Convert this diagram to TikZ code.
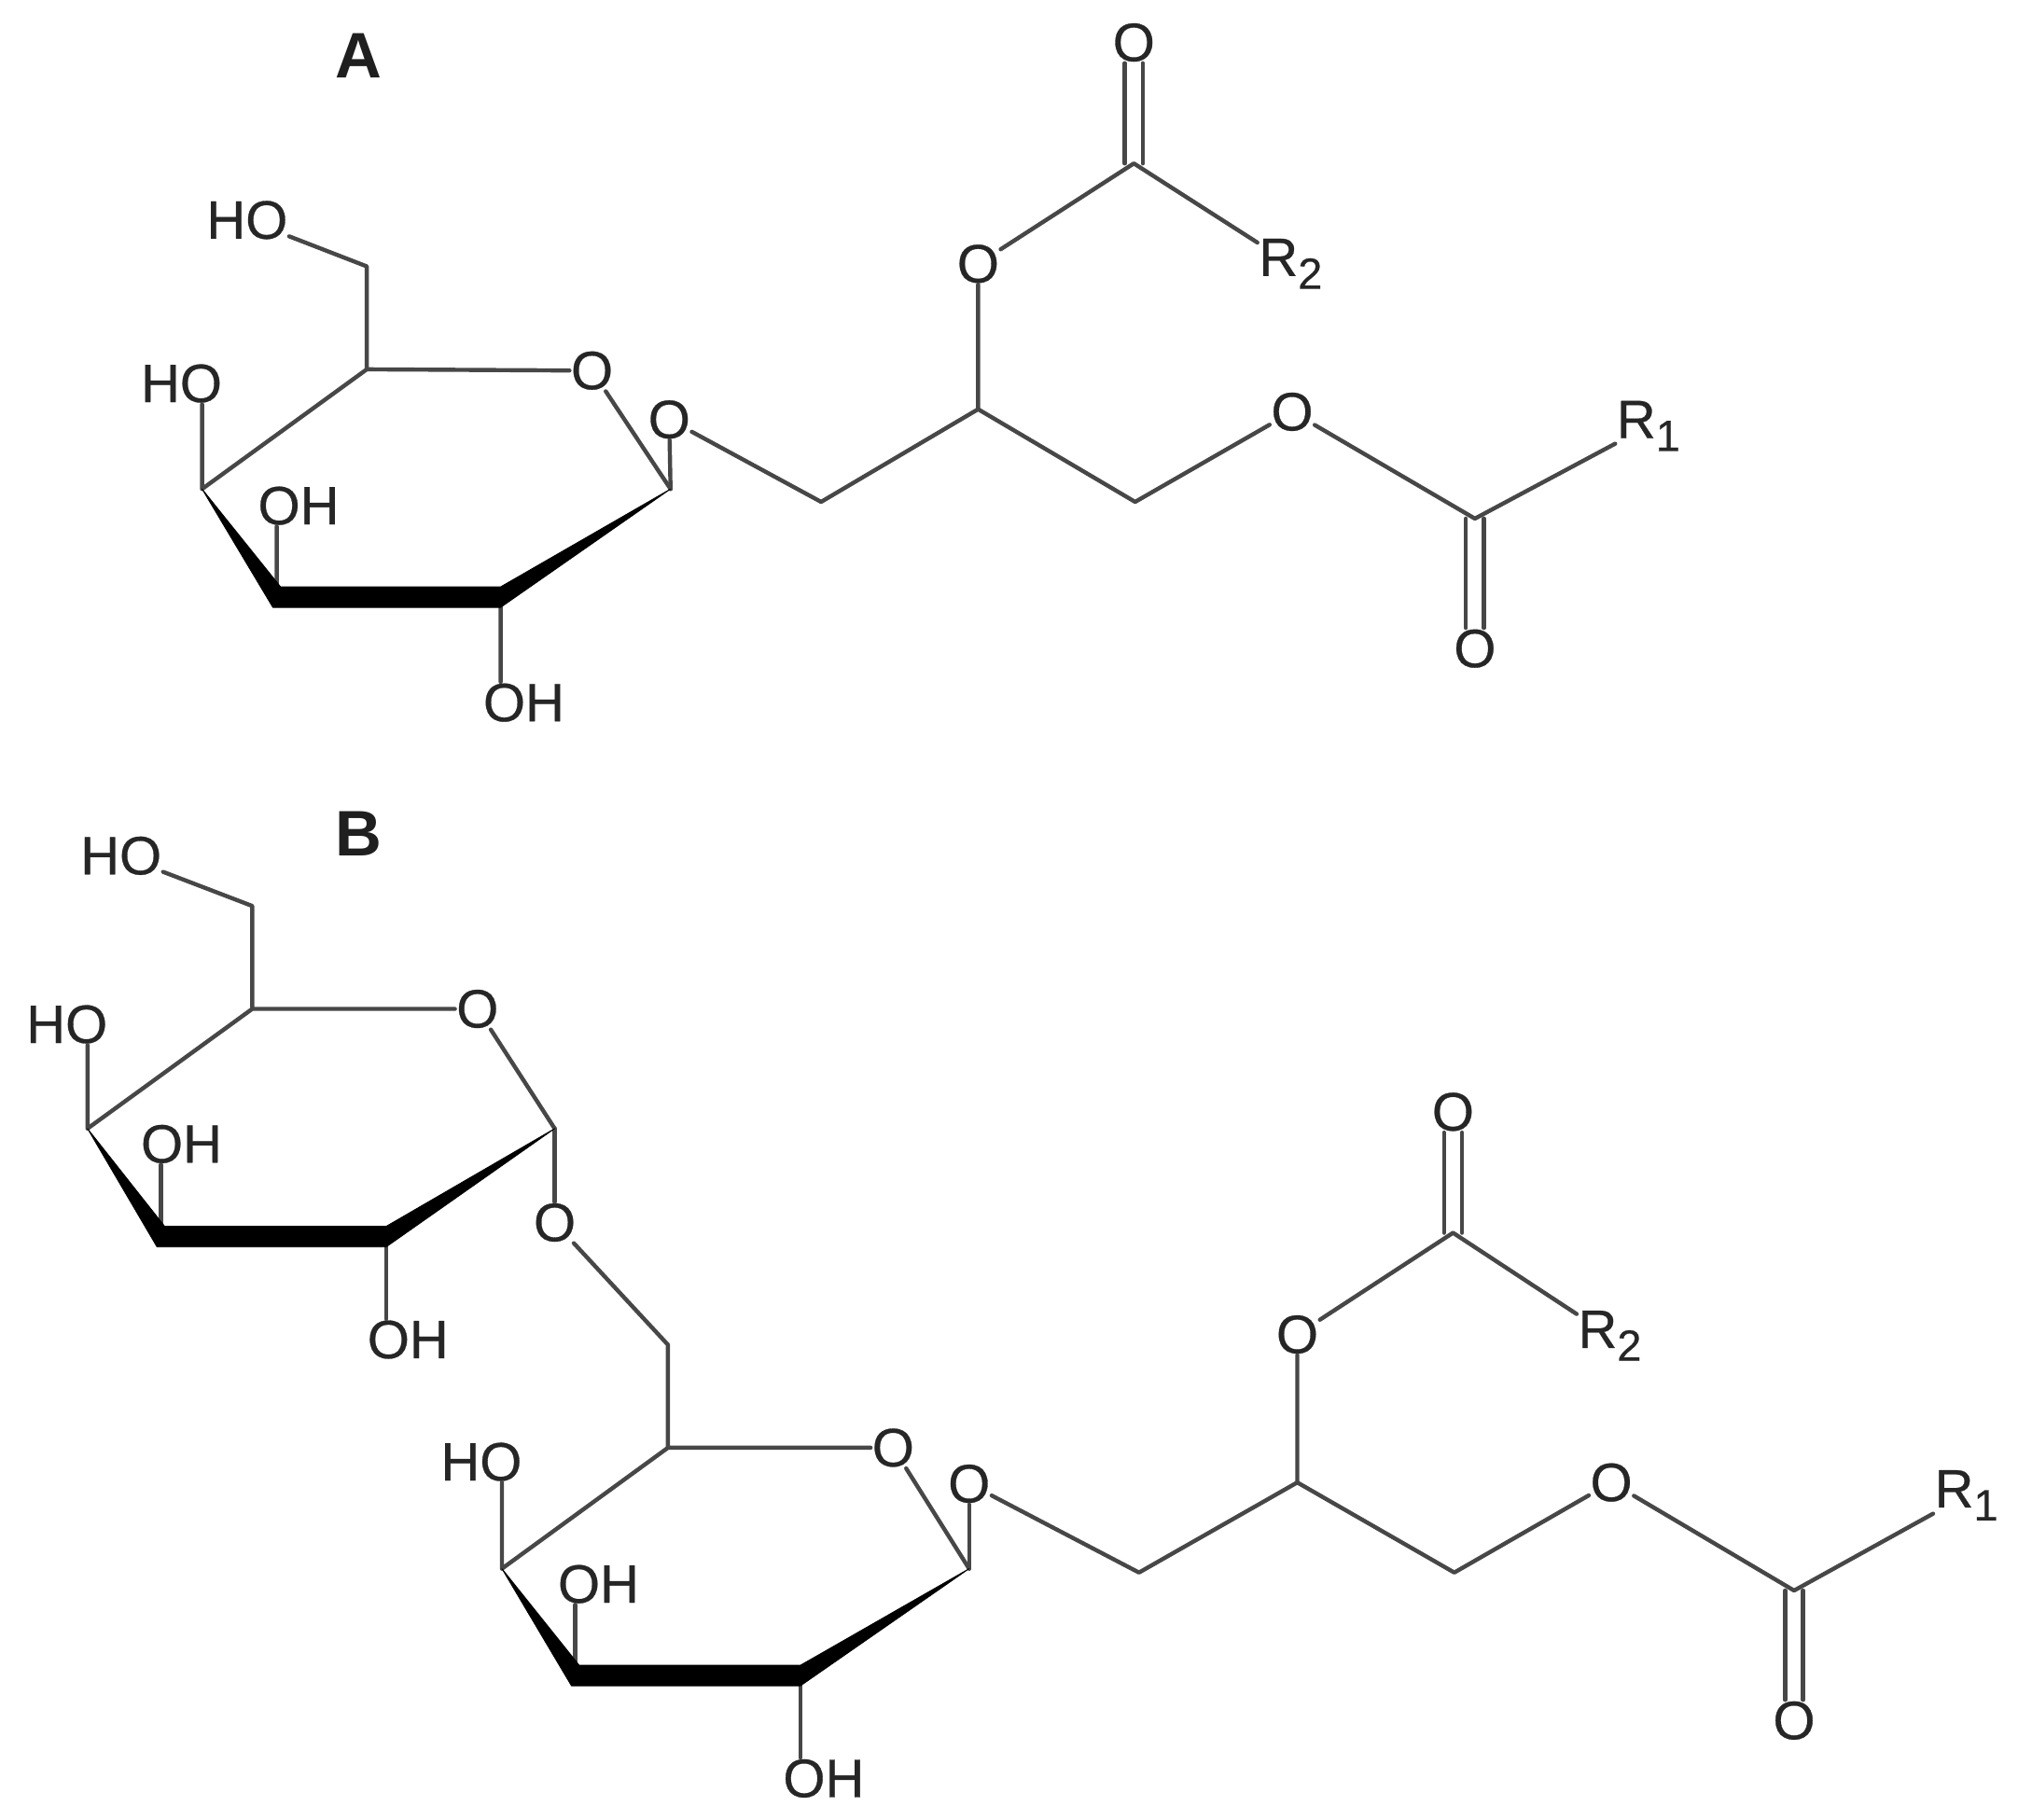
\documentclass[tikz,border=0pt]{standalone}
\usepackage{fontspec}
\setmainfont{Liberation Sans}
\newfontfamily\lblfont{Liberation Sans}[FakeBold=0.5]
\newcommand{\Rsub}[1]{R\raisebox{-10pt}{\fontsize{34}{34}\selectfont #1}}
\begin{document}
\begin{tikzpicture}[x=1pt,y=-1pt,
  lbl/.style={inner sep=1pt,font=\lblfont\fontsize{42}{42}\selectfont,text=black!85},
  head/.style={inner sep=0pt,font=\fontsize{50}{50}\selectfont\bfseries,text=black!88},
  bond/.style={draw=black!72,line width=3.2pt,line cap=round,line join=round},
  wedge/.style={fill=black,draw=black,line width=.6pt,line join=round}]
\useasboundingbox (0,0) rectangle (1568,1414);
\fill[white] (0,0) rectangle (1568,1414);
\node[head] (ha) at (279,43) {A};
\node[head] (hb) at (279,648) {B};
% --- A sugar
\coordinate (a1) at (285,287);
\node[lbl] (aOr) at (460,288) {O};
\coordinate (a2) at (521,380);
\coordinate (a3) at (389,464);
\coordinate (a4) at (215,464);
\coordinate (a5) at (157,380);
\coordinate (a6) at (285,207);
\node[lbl] (aHO6) at (192,171) {HO};
\node[lbl] (aHO5) at (141,298) {HO};
\node[lbl] (aOH4) at (232,393) {OH};
\node[lbl] (aOH3) at (407,546) {OH};
\node[lbl] (aOg) at (520,326) {O};
\coordinate (ag1) at (638,390);
\coordinate (ag2) at (760,318);
\coordinate (ag3) at (882,390);
\node[lbl] (aO2) at (760,205) {O};
\node[lbl] (aO1) at (1004,320) {O};
\coordinate (ac2) at (881,127);
\node[lbl] (aCO2) at (881,33) {O};
\node[lbl,anchor=west] (aR2) at (977,205) {\Rsub{2}};
\coordinate (ac1) at (1146,403);
\node[lbl] (aCO1) at (1146,504) {O};
\node[lbl,anchor=west] (aR1) at (1255,331) {\Rsub{1}};
\draw[bond] (a5) -- (a1) -- (aOr) (aOr) -- (a2) (a1) -- (a6) -- (aHO6) (a5) -- (a5 |- aHO5.south);
\draw[bond] (a3) -- (a3 |- aOH3.north) (a4) -- (a4 |- aOH4.south) (a2) -- (aOg);
\draw[bond] (aOg) -- (ag1) -- (ag2) -- (ag3) -- (aO1) -- (ac1) -- (aR1);
\draw[bond] (ag2) -- (aO2) -- (ac2) -- (aR2);
\draw[bond] ([xshift=-7pt]ac2) -- ([xshift=-7pt]aCO2.south) ([xshift=7pt]ac2) -- ([xshift=7pt]aCO2.south);
\draw[bond] ([xshift=-7pt]ac1) -- ([xshift=-7pt]aCO1.north) ([xshift=7pt]ac1) -- ([xshift=7pt]aCO1.north);
\fill[wedge] (a5) -- ([shift={(3,-8)}]a4) -- ([shift={(174,-8)}]a4) -- (a2) -- ([shift={(174,8)}]a4) -- ([shift={(-3,8)}]a4) -- cycle;
% --- B top sugar
\coordinate (b1) at (196,784);
\node[lbl] (bOr) at (371,784) {O};
\coordinate (b2) at (431,877);
\coordinate (b3) at (300,961);
\coordinate (b4) at (125,961);
\coordinate (b5) at (68,877);
\coordinate (b6) at (196,704);
\node[lbl] (bHO6) at (94,665) {HO};
\node[lbl] (bHO5) at (52,796) {HO};
\node[lbl] (bOH4) at (141,889) {OH};
\node[lbl] (bOH3) at (317,1041) {OH};
\node[lbl] (bOl) at (431,950) {O};
\draw[bond] (b5) -- (b1) -- (bOr) (bOr) -- (b2) (b1) -- (b6) -- (bHO6) (b5) -- (b5 |- bHO5.south);
\draw[bond] (b3) -- (b3 |- bOH3.north) (b4) -- (b4 |- bOH4.south) (b2) -- (bOl);
\fill[wedge] (b5) -- ([shift={(3,-8)}]b4) -- ([shift={(175,-8)}]b4) -- (b2) -- ([shift={(175,8)}]b4) -- ([shift={(-3,8)}]b4) -- cycle;
% --- B bottom sugar
\coordinate (d6) at (519,1045);
\coordinate (d1) at (519,1125);
\node[lbl] (dOr) at (694,1125) {O};
\coordinate (d2) at (753,1219);
\coordinate (d3) at (622,1302);
\coordinate (d4) at (447,1302);
\coordinate (d5) at (390,1219);
\node[lbl] (dHO5) at (374,1136) {HO};
\node[lbl] (dOH4) at (465,1231) {OH};
\node[lbl] (dOH3) at (640,1382) {OH};
\node[lbl] (dOg) at (753,1153) {O};
\coordinate (dg1) at (885,1222);
\coordinate (dg2) at (1008,1152);
\coordinate (dg3) at (1130,1222);
\node[lbl] (dO2) at (1008,1037) {O};
\node[lbl] (dO1) at (1252,1152) {O};
\coordinate (dc2) at (1129,958);
\node[lbl] (dCO2) at (1129,864) {O};
\node[lbl,anchor=west] (dR2) at (1225,1038) {\Rsub{2}};
\coordinate (dc1) at (1394,1236);
\node[lbl] (dCO1) at (1394,1337) {O};
\node[lbl,anchor=west] (dR1) at (1502,1162) {\Rsub{1}};
\draw[bond] (bOl) -- (d6) -- (d1) -- (dOr) (dOr) -- (d2) (d5) -- (d1) (d5) -- (d5 |- dHO5.south);
\draw[bond] (d3) -- (d3 |- dOH3.north) (d4) -- (d4 |- dOH4.south) (d2) -- (dOg);
\draw[bond] (dOg) -- (dg1) -- (dg2) -- (dg3) -- (dO1) -- (dc1) -- (dR1);
\draw[bond] (dg2) -- (dO2) -- (dc2) -- (dR2);
\draw[bond] ([xshift=-7pt]dc2) -- ([xshift=-7pt]dCO2.south) ([xshift=7pt]dc2) -- ([xshift=7pt]dCO2.south);
\draw[bond] ([xshift=-7pt]dc1) -- ([xshift=-7pt]dCO1.north) ([xshift=7pt]dc1) -- ([xshift=7pt]dCO1.north);
\fill[wedge] (d5) -- ([shift={(3,-8)}]d4) -- ([shift={(175,-8)}]d4) -- (d2) -- ([shift={(175,8)}]d4) -- ([shift={(-3,8)}]d4) -- cycle;
\end{tikzpicture}
\end{document}
